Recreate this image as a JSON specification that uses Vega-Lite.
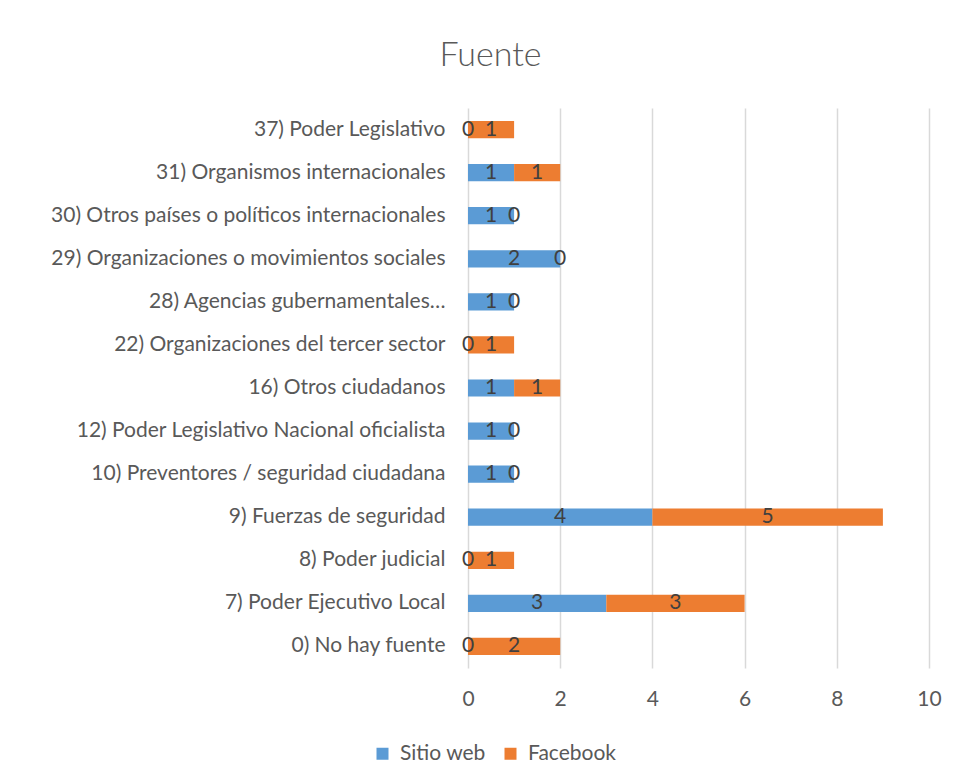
{
  "$schema": "https://vega.github.io/schema/vega-lite/v6.json",
  "autosize": {"type": "none"},
  "width": 461,
  "height": 560,
  "padding": {"left": 468, "top": 108, "right": 28, "bottom": 116},
  "background": "white",
  "title": {
    "text": "Fuente",
    "font": "Lato",
    "fontSize": 34,
    "fontWeight": 300,
    "color": "#595959",
    "anchor": "middle",
    "frame": "group",
    "dx": -208,
    "offset": 35
  },
  "data": {
    "values": [
      {"cat": "37) Poder Legislativo", "serie": "Sitio web", "o": 1, "n": 0},
      {"cat": "37) Poder Legislativo", "serie": "Facebook", "o": 2, "n": 1},
      {"cat": "31) Organismos internacionales", "serie": "Sitio web", "o": 1, "n": 1},
      {"cat": "31) Organismos internacionales", "serie": "Facebook", "o": 2, "n": 1},
      {"cat": "30) Otros países o políticos internacionales", "serie": "Sitio web", "o": 1, "n": 1},
      {"cat": "30) Otros países o políticos internacionales", "serie": "Facebook", "o": 2, "n": 0},
      {"cat": "29) Organizaciones o movimientos sociales", "serie": "Sitio web", "o": 1, "n": 2},
      {"cat": "29) Organizaciones o movimientos sociales", "serie": "Facebook", "o": 2, "n": 0},
      {"cat": "28) Agencias gubernamentales…", "serie": "Sitio web", "o": 1, "n": 1},
      {"cat": "28) Agencias gubernamentales…", "serie": "Facebook", "o": 2, "n": 0},
      {"cat": "22) Organizaciones del tercer sector", "serie": "Sitio web", "o": 1, "n": 0},
      {"cat": "22) Organizaciones del tercer sector", "serie": "Facebook", "o": 2, "n": 1},
      {"cat": "16) Otros ciudadanos", "serie": "Sitio web", "o": 1, "n": 1},
      {"cat": "16) Otros ciudadanos", "serie": "Facebook", "o": 2, "n": 1},
      {"cat": "12) Poder Legislativo Nacional oficialista", "serie": "Sitio web", "o": 1, "n": 1},
      {"cat": "12) Poder Legislativo Nacional oficialista", "serie": "Facebook", "o": 2, "n": 0},
      {"cat": "10) Preventores / seguridad ciudadana", "serie": "Sitio web", "o": 1, "n": 1},
      {"cat": "10) Preventores / seguridad ciudadana", "serie": "Facebook", "o": 2, "n": 0},
      {"cat": "9) Fuerzas de seguridad", "serie": "Sitio web", "o": 1, "n": 4},
      {"cat": "9) Fuerzas de seguridad", "serie": "Facebook", "o": 2, "n": 5},
      {"cat": "8) Poder judicial", "serie": "Sitio web", "o": 1, "n": 0},
      {"cat": "8) Poder judicial", "serie": "Facebook", "o": 2, "n": 1},
      {"cat": "7) Poder Ejecutivo Local", "serie": "Sitio web", "o": 1, "n": 3},
      {"cat": "7) Poder Ejecutivo Local", "serie": "Facebook", "o": 2, "n": 3},
      {"cat": "0) No hay fuente", "serie": "Sitio web", "o": 1, "n": 0},
      {"cat": "0) No hay fuente", "serie": "Facebook", "o": 2, "n": 2}
    ]
  },
  "transform": [
    {"stack": "n", "groupby": ["cat"], "sort": [{"field": "o", "order": "ascending"}], "as": ["v0", "v1"]},
    {"calculate": "(datum.v0 + datum.v1) / 2", "as": "mid"}
  ],
  "encoding": {
    "y": {
      "field": "cat",
      "type": "nominal",
      "sort": null,
      "title": null,
      "scale": {"paddingInner": 0.6, "paddingOuter": 0.3},
      "axis": {
        "domain": false,
        "ticks": false,
        "grid": false,
        "labelPadding": 23,
        "labelFont": "Lato",
        "labelFontSize": 21,
        "labelColor": "#595959",
        "labelLimit": 460
      }
    }
  },
  "layer": [
    {
      "mark": {"type": "bar"},
      "encoding": {
        "x": {
          "field": "v0",
          "type": "quantitative",
          "title": null,
          "scale": {"domain": [0, 10], "nice": false},
          "axis": {
            "values": [0, 2, 4, 6, 8, 10],
            "domain": false,
            "ticks": false,
            "grid": true,
            "gridColor": "#D9D9D9",
            "gridWidth": 1.5,
            "labelFlush": false,
            "labelPadding": 20,
            "labelFont": "Lato",
            "labelFontSize": 21,
            "labelColor": "#595959"
          }
        },
        "x2": {"field": "v1"},
        "color": {
          "field": "serie",
          "type": "nominal",
          "scale": {"domain": ["Sitio web", "Facebook"], "range": ["#5B9BD5", "#ED7D31"]},
          "legend": {
            "title": null,
            "orient": "none",
            "direction": "horizontal",
            "legendX": -96,
            "legendY": 635,
            "symbolType": "square",
            "symbolSize": 144,
            "symbolStrokeWidth": 0,
            "labelFont": "Lato",
            "labelFontSize": 21,
            "labelColor": "#595959",
            "labelOffset": 7,
            "columnPadding": 14
          }
        }
      }
    },
    {
      "mark": {"type": "text", "font": "Lato", "fontSize": 21, "color": "#404040", "baseline": "middle", "align": "center"},
      "encoding": {
        "x": {"field": "mid", "type": "quantitative"},
        "text": {"field": "n", "type": "quantitative"}
      }
    }
  ],
  "config": {"view": {"stroke": null}}
}
